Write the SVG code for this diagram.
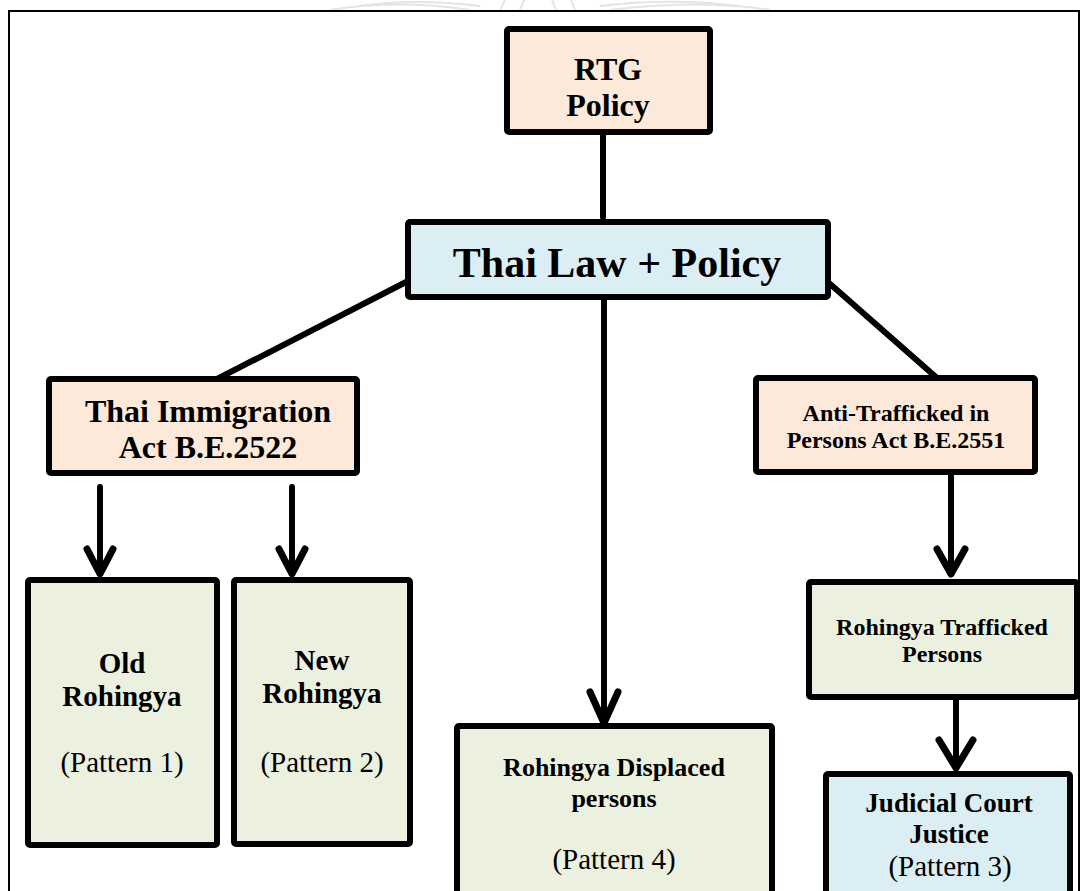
<svg xmlns="http://www.w3.org/2000/svg" width="1080" height="891" viewBox="0 0 1080 891">
  <style>
    .box { stroke: #000; stroke-width: 6; stroke-linejoin: round; }
    .peach { fill: #FDE9D9; }
    .blue { fill: #DBEEF4; }
    .green { fill: #EBF1DE; }
    .t { font-family: "Liberation Serif", "Times New Roman", serif; fill: #000; text-anchor: middle; }
    .b { font-weight: bold; }
    .link { stroke: #000; stroke-width: 6; fill: none; stroke-linecap: round; stroke-linejoin: round; }
    .head { stroke: #000; stroke-width: 7; fill: none; stroke-linecap: round; stroke-linejoin: round; }
    .seal { stroke: #e4e4e4; stroke-width: 2; fill: none; }
  </style>

  <rect width="1080" height="891" fill="#fff"/>

  <!-- faint seal printed above the frame -->
  <g id="seal">
    <path class="seal" d="M330,10 C380,2 430,4 470,10"/>
    <path class="seal" d="M610,10 C660,4 720,2 770,10"/>
    <path class="seal" d="M360,6 C400,0 440,1 480,6"/>
    <path class="seal" d="M600,6 C640,1 690,0 740,6"/>
    <path class="seal" d="M500,10 L505,0 M520,10 L524,0 M556,10 L552,0 M575,10 L571,0"/>
  </g>

  <!-- outer frame -->
  <rect x="9" y="11" width="1070" height="910" fill="none" stroke="#000" stroke-width="2"/>

  <!-- connectors -->
  <g id="connectors">
    <line class="link" x1="603" y1="132" x2="603" y2="217"/>
    <line class="link" x1="408" y1="281" x2="217" y2="379"/>
    <line class="link" x1="829" y1="283" x2="937" y2="378"/>
    <!-- immigration act to Old / New Rohingya -->
    <line class="link" x1="100" y1="487" x2="100" y2="573"/>
    <polyline class="head" points="87,549 100,574 113,549"/>
    <line class="link" x1="292" y1="487" x2="292" y2="573"/>
    <polyline class="head" points="279,549 292,574 305,549"/>
    <!-- Thai Law to displaced persons -->
    <line class="link" x1="604" y1="297" x2="604" y2="723"/>
    <polyline class="head" points="590,692 604,723 618,692"/>
    <!-- anti-trafficking act to trafficked persons -->
    <line class="link" x1="951" y1="472" x2="951" y2="573"/>
    <polyline class="head" points="937,549 951,574 965,549"/>
    <!-- trafficked persons to court -->
    <line class="link" x1="956" y1="697" x2="956" y2="767" stroke-width="10"/>
    <polyline class="head" points="939,740 956,768 973,740" stroke-width="10"/>
  </g>

  <g id="rtg-policy">
    <rect class="box peach" x="507" y="29" width="203" height="103" rx="2"/>
    <text class="t b" x="608" y="80" font-size="32">RTG</text>
    <text class="t b" x="608" y="116" font-size="32">Policy</text>
  </g>

  <g id="thai-law-policy">
    <rect class="box blue" x="408" y="222" width="420" height="75" rx="2"/>
    <text class="t b" x="617" y="277" font-size="42">Thai Law + Policy</text>
  </g>

  <g id="immigration-act">
    <rect class="box peach" x="49" y="379" width="308" height="94" rx="2"/>
    <text class="t b" x="208" y="422" font-size="32">Thai Immigration</text>
    <text class="t b" x="208" y="458" font-size="32">Act B.E.2522</text>
  </g>

  <g id="anti-trafficking-act">
    <rect class="box peach" x="756" y="378" width="279" height="94" rx="2"/>
    <text class="t b" x="896" y="421" font-size="24">Anti-Trafficked in</text>
    <text class="t b" x="896" y="448" font-size="24">Persons Act B.E.2551</text>
  </g>

  <g id="old-rohingya">
    <rect class="box green" x="28" y="580" width="189" height="265" rx="2"/>
    <text class="t b" x="122" y="673" font-size="29">Old</text>
    <text class="t b" x="122" y="706" font-size="29">Rohingya</text>
    <text class="t" x="122" y="772" font-size="29">(Pattern 1)</text>
  </g>

  <g id="new-rohingya">
    <rect class="box green" x="234" y="580" width="176" height="264" rx="2"/>
    <text class="t b" x="322" y="670" font-size="29">New</text>
    <text class="t b" x="322" y="703" font-size="29">Rohingya</text>
    <text class="t" x="322" y="772" font-size="29">(Pattern 2)</text>
  </g>

  <g id="displaced-persons">
    <rect class="box green" x="457" y="726" width="315" height="200" rx="2"/>
    <text class="t b" x="614" y="776" font-size="26">Rohingya Displaced</text>
    <text class="t b" x="614" y="807" font-size="26">persons</text>
    <text class="t" x="614" y="869" font-size="29">(Pattern 4)</text>
  </g>

  <g id="trafficked-persons">
    <rect class="box green" x="809" y="582" width="268" height="115" rx="2"/>
    <text class="t b" x="942" y="635" font-size="24">Rohingya Trafficked</text>
    <text class="t b" x="942" y="662" font-size="24">Persons</text>
  </g>

  <g id="judicial-court">
    <rect class="box blue" x="826" y="774" width="244" height="150" rx="2"/>
    <text class="t b" x="949" y="812" font-size="27">Judicial Court</text>
    <text class="t b" x="949" y="843" font-size="27">Justice</text>
    <text class="t" x="950" y="876" font-size="29">(Pattern 3)</text>
  </g>
</svg>
